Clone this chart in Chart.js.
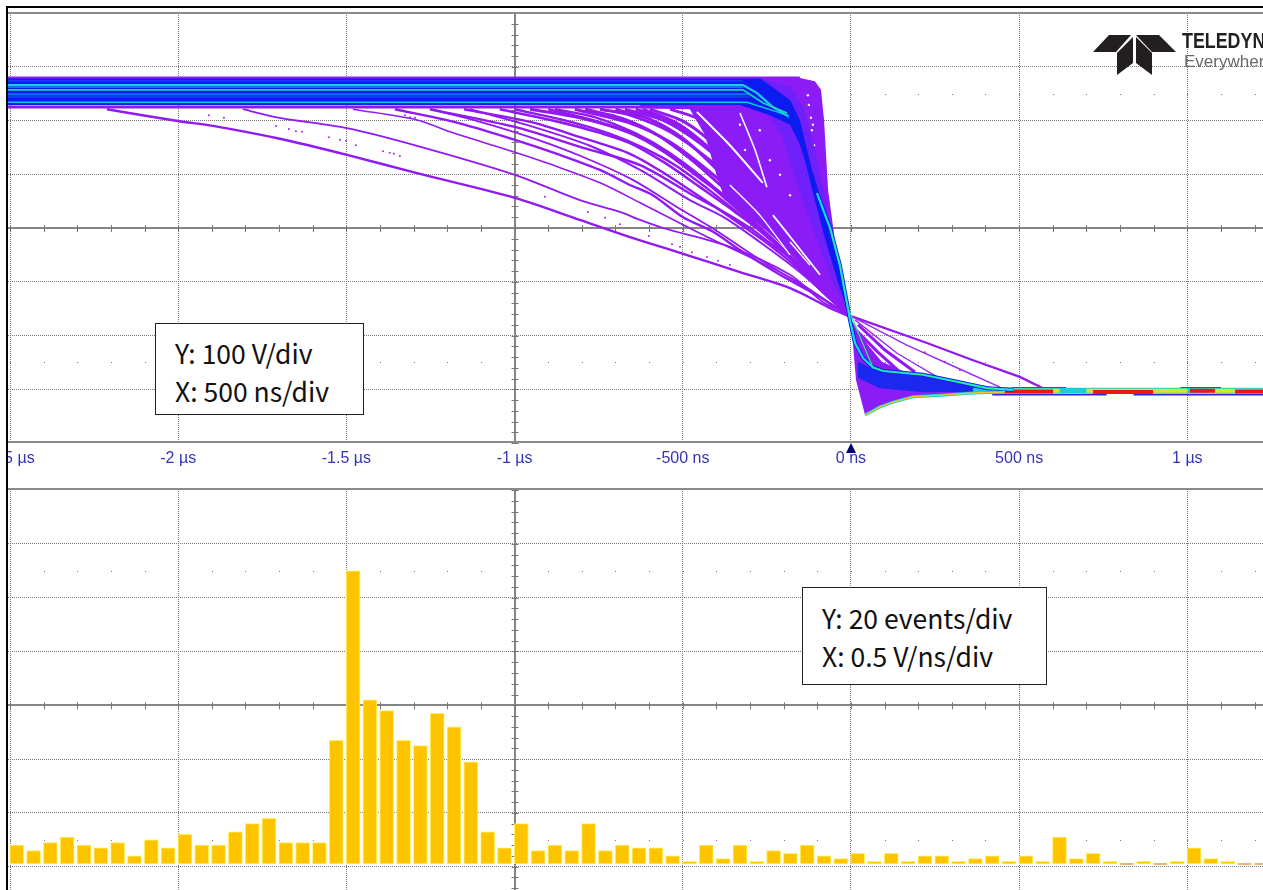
<!DOCTYPE html>
<html>
<head>
<meta charset="utf-8">
<script src="https://cdn.jsdelivr.net/npm/chart.js@4"></script>
<style>
  html, body { margin: 0; padding: 0; background: #fff; width: 1263px; height: 890px; overflow: hidden; }
  .abs { position: absolute; }
  #wrapTop { left: 8px; top: 13px; width: 1255px; height: 476px; overflow: hidden; }
  #wrapTop canvas { position: absolute; left: -58px; top: 0; }
  #wrapBottom { left: 8px; top: 489px; width: 1255px; height: 401px; overflow: hidden; }
  .rule { background: #8a8a8a; height: 2px; left: 8px; width: 1255px; }
  .note { background: #fff; border: 1.5px solid #222; box-sizing: border-box; color: #111;
          font: 26.5px/38px "Noto Sans CJK JP", "Noto Sans", sans-serif; white-space: nowrap; }
  #logoName { left: 1182px; top: 29px; font: bold 21.5px "Liberation Sans", sans-serif; color: #231f20;
              transform: scaleX(.83); transform-origin: left top; }
  #logoTag { left: 1184px; top: 52px; font: 17px "Liberation Sans", sans-serif; color: #6a6a6a; }
</style>
</head>
<body>
<div class="abs" style="left:6px;top:6px;width:1257px;height:2px;background:#000"></div>
<div class="abs" style="left:6px;top:6px;width:2px;height:884px;background:#000"></div>
<div class="abs" id="wrapTop"><canvas id="scope" width="1313" height="476"></canvas></div>
<div class="abs" id="wrapBottom"><canvas id="hist" width="1255" height="401"></canvas></div>
<div class="abs rule" style="top:12px"></div>
<div class="abs rule" style="top:441px"></div>
<div class="abs rule" style="top:488px"></div>
<svg class="abs" style="left:1090px;top:30px" width="90" height="50" viewBox="1090 30 90 50">
  <g fill="#231f20">
    <polygon points="1109,35 1131,35 1116,52 1093,52"/>
    <polygon points="1136,35 1159,35 1176,52 1152,52"/>
    <polygon points="1133,37 1133,63 1117,75 1117,53"/>
    <polygon points="1136,37 1152,53 1152,75 1136,63"/>
  </g>
</svg>
<div class="abs" id="logoName">TELEDYNE</div>
<div class="abs" id="logoTag">Everywhere</div>
<div class="abs note" style="left:155px;top:323px;width:209px;height:92px;padding:10px 0 0 19px">Y: 100 V/div<br>X: 500 ns/div</div>
<div class="abs note" style="left:802px;top:587px;width:245px;height:98px;padding:11px 0 0 19px">Y: 20 events/div<br>X: 0.5 V/ns/div</div>
<svg class="abs" style="left:845px;top:443px" width="12" height="11"><polygon points="6,0 11,10 1,10" fill="#000080"/></svg>

<script>
"use strict";

// ---- top panel axes: time in ns, voltage in V ----
const timeTicks = [-2500, -2000, -1500, -1000, -500, 0, 500, 1000];
const timeLabels = ["-2.5 µs", "-2 µs", "-1.5 µs", "-1 µs", "-500 ns", "0 ns", "500 ns", "1 µs"];
const voltTicks = [-300, -200, -100, 0, 100, 200, 300];

// ---- falling edges, [ns, V] ----
const edgeOuter = [[-2212,221],[-2001,199],[-1897,190],[-1698,166],[-1498,136],[-1290,102],[-999,56],[-806,15],[-657,-17],[-499,-48],[-330,-82],[-181,-112],[-62,-149],[-6,-164]];
const edge2 = [[-1808,221],[-1698,205],[-1498,186],[-1290,153],[-999,99],[-806,52],[-687,30],[-627,15],[-559,0],[-360,-35],[-181,-87],[-83,-138],[-12,-158]];
const edge3 = [[-1481,221],[-1290,201],[-1183,177],[-999,141],[-886,117],[-746,84],[-627,47],[-499,6],[-410,-22],[-271,-63],[-152,-102],[-62,-140],[-6,-164]];
const edge3b = [[-1356,221],[-1177,197],[-999,164],[-865,136],[-746,108],[-657,80],[-589,61],[-499,20],[-410,-7],[-330,-41],[-211,-87],[-101,-125],[-6,-164]];
const edge3c = [[-1250,221],[-1100,197],[-950,168],[-800,133],[-650,90],[-520,40],[-400,-5],[-280,-55],[-150,-105],[-50,-145],[-6,-164]];
const edge4 = [[-1252,221],[-999,188],[-806,151],[-627,117],[-470,61],[-398,37],[-300,0],[-241,-28],[-161,-65],[-71,-119],[-6,-164]];
const edge4b = [[-1133,221],[-954,190],[-776,153],[-627,108],[-479,52],[-375,19],[-271,-26],[-152,-82],[-48,-140],[-6,-164]];
const edge4c = [[-1150,221],[-950,197],[-800,168],[-657,138],[-553,101],[-449,58],[-345,14],[-241,-32],[-152,-78],[-62,-132],[-6,-164]];
const edge5 = [[-1044,221],[-865,197],[-746,177],[-657,158],[-553,121],[-449,76],[-345,30],[-241,-19],[-152,-69],[-62,-126],[-6,-164]];
const edge5b = [[-1000,221],[-830,197],[-720,176],[-620,150],[-520,116],[-420,70],[-320,20],[-220,-33],[-130,-88],[-50,-138],[-6,-164]];
const edge5c = [[-900,221],[-780,203],[-680,183],[-590,158],[-500,122],[-400,72],[-300,18],[-200,-40],[-110,-98],[-40,-142],[-6,-164]];
const edge6 = [[-954,221],[-806,205],[-657,177],[-553,141],[-449,93],[-345,45],[-241,-7],[-137,-71],[-48,-134],[-6,-164]];
const edge6b = [[-880,221],[-760,206],[-640,176],[-540,140],[-440,90],[-340,36],[-240,-20],[-140,-78],[-60,-128],[-6,-164]];
const edge6c = [[-790,221],[-680,204],[-580,175],[-480,130],[-380,75],[-280,17],[-180,-44],[-90,-108],[-6,-164]];
const edge7 = [[-821,221],[-657,195],[-538,160],[-434,112],[-330,56],[-226,-4],[-122,-74],[-6,-164]];
const edge7b = [[-700,221],[-600,203],[-500,167],[-400,110],[-300,45],[-200,-20],[-100,-95],[-6,-164]];
const edge8 = [[-746,221],[-657,210],[-538,179],[-419,126],[-315,67],[-211,-4],[-107,-82],[-6,-164]];
const edge8b = [[-640,221],[-550,203],[-460,168],[-370,115],[-280,50],[-190,-18],[-95,-98],[-6,-164]];
const edge9 = [[-672,221],[-553,199],[-449,158],[-345,102],[-241,30],[-152,-41],[-62,-119],[-6,-164]];
const edge9b = [[-620,221],[-520,196],[-420,148],[-320,84],[-220,10],[-130,-62],[-50,-130],[-6,-164]];
const edge10 = [[-598,221],[-494,197],[-389,145],[-285,71],[-181,-22],[-77,-115],[-6,-164]];
const edge11 = [[-538,221],[-449,201],[-345,141],[-256,71],[-166,-19],[-77,-106],[-6,-164]];
const strayPoints = [[-1909,210],[-1864,205],[-1709,190],[-1671,184],[-1650,180],[-1632,179],[-1552,169],[-1519,164],[-1501,162],[-1472,154],[-1391,143],[-1371,140],[-1359,138],[-1341,134],[-1326,210],[-1311,206],[-1296,205],[-910,58],[-782,30],[-731,19],[-687,7],[-601,-15],[-532,-30],[-508,-35],[-473,-45],[-428,-54],[-395,-61],[-360,-69],[220,-231],[279,-249],[324,-264]];

// ---- dense body of the edge family (upper and lower outline) ----
const bodyUpper = [[-627,279],[-152,279],[-107,273],[-89,257],[-80,201],[-68,71],[-48,-22],[-24,-106],[-3,-164]];
const bodyLower = [[-627,223],[-479,221],[-434,173],[-404,108],[-375,52],[-241,-7],[-71,-119],[-3,-164]];
const violetUpper = [[-271,279],[-181,262],[-140,225],[-108,150],[-75,52],[-39,-60],[-3,-164]];
const violetLower = [[-271,229],[-241,205],[-205,170],[-170,100],[-115,0],[-55,-100],[-3,-164]];
const blueUpper = [[-2506,279],[-271,279],[-181,238],[-152,201],[-116,108],[-77,24],[-39,-69],[-9,-149]];
const blueLower = [[-2506,229],[-330,229],[-241,210],[-181,192],[-143,145],[-119,80],[-80,-13],[-36,-106],[-9,-153]];

// ---- thin unhit streaks and specks left inside the dense body ----
const gap1 = [[-458,216],[-360,154],[-262,84]];
const gap2 = [[-330,214],[-285,145],[-250,76]];
const gap3 = [[-232,24],[-161,-32],[-92,-87]];
const gap4 = [[-360,80],[-271,24],[-181,-50]];
const gap5 = [[-181,-26],[-122,-69]];
const gapSpecks = [[-128,247],[-125,229],[-119,205],[-116,182],[-113,192],[-110,154],[-107,126],[-104,104],[-315,145],[-241,126],[-211,99],[-181,61],[-271,182],[-330,192]];

// ---- plateau stripes ----
const plateauTop = [[-2506,280],[-152,280]];
const plateauBottom = [[-2506,225],[-330,225]];
const stripeHigh = [[-2506,262],[-321,262]];
const stripeMid = [[-2506,249],[-300,249]];
const stripeLow = [[-2506,244],[-300,244]];
const stripeDim = [[-2506,274],[-321,274]];
const cyan1 = [[-2506,266],[-321,266],[-279,251],[-232,225],[-181,206]];
const cyan2 = [[-2506,257],[-321,257],[-262,233],[-190,214]];
const cyan3 = [[-2506,234],[-309,234],[-220,216],[-175,206]];

// ---- most common edge and what follows the trigger ----
const mainEdge = [[-181,210],[-152,169],[-101,65],[-62,0],[-33,-69],[-9,-149],[-3,-171],[12,-214],[36,-242],[65,-259],[95,-266],[214,-273],[315,-286],[404,-298],[482,-301]];
const mainEdgeCyan = [[-101,65],[-62,0],[-33,-69],[-9,-149],[-3,-171],[12,-214],[36,-242],[65,-259],[95,-266],[214,-273],[315,-286],[404,-298],[482,-301]];
const mainEdgeGreen = [[-62,0],[-33,-69],[-9,-149],[65,-259],[95,-266],[214,-273],[315,-286],[404,-298],[482,-301]];
const undershoot = [[42,-348],[86,-333],[125,-324],[184,-314],[265,-311],[363,-307],[458,-305]];
const lobe1 = [[0,-164],[226,-214],[363,-246],[502,-277],[571,-298]];
const lobe2 = [[6,-166],[166,-218],[315,-260],[443,-296]];
const lobe3 = [[12,-171],[137,-233],[256,-277]];
const lobe4 = [[21,-180],[101,-227],[190,-268]];
const lobe5 = [[15,-190],[80,-231],[146,-268]];
const wedgeUpper = [[0,-171],[51,-218],[92,-249],[161,-268],[324,-286],[473,-301]];
const wedgeLower = [[0,-171],[15,-283],[42,-348],[86,-333],[125,-324],[184,-314],[265,-311],[363,-307],[473,-305]];
const settleBlueUpper = [[21,-249],[65,-262],[214,-277],[315,-288],[443,-300]];
const settleBlueLower = [[21,-279],[86,-298],[205,-305],[324,-305],[443,-303]];
const settleCyan = [[363,-303],[1225,-303]];
const settleEdgeHigh = [[480,-297],[640,-297],[660,null],[980,-297],[1100,-297]];
const settleEdgeLow = [[420,-310],[760,-310],[800,null],[840,-310],[1225,-310]];
const settleYellow = [[420,-303],[620,-303],[700,null],[700,-303],[1000,-303],[1040,null],[1060,-303],[1225,-303]];
const settleRed = [[452,-304],[601,-304],[660,null],[720,-305],[898,-305],[950,null],[1008,-303],[1082,-303],[1110,null],[1142,-304],[1225,-304]];

// ---- slew-rate histogram ----
const slewBins = [0.02,0.07,0.12,0.17,0.22,0.27,0.32,0.37,0.42,0.47,0.52,0.57,0.62,0.67,0.72,0.77,0.82,0.87,0.92,0.97,1.02,1.07,1.12,1.17,1.22,1.27,1.32,1.37,1.42,1.47,1.52,1.57,1.62,1.67,1.72,1.77,1.82,1.87,1.92,1.97,2.02,2.07,2.12,2.17,2.22,2.27,2.32,2.37,2.42,2.47,2.52,2.57,2.62,2.67,2.72,2.77,2.82,2.87,2.92,2.97,3.02,3.07,3.12,3.17,3.22,3.27,3.32,3.37,3.42,3.47,3.52,3.57,3.62,3.67,3.72];
const slewCounts = [7,5,8,10,7,6,8,3,9,6,11,7,7,12,15,17,8,8,8,46,109,61,57,46,44,56,51,38,12,6,15,5,7,5,15,5,7,6,6,3,1,7,2,7,1,5,4,7,3,2,4,1,4,1,3,3,1,2,3,1,3,1,10,2,4,1,0,1,0,1,6,2,1,0,0];
const slewTicks = [0, 0.5, 1, 1.5, 2, 2.5, 3, 3.5];
const countTicks = [-1, 19, 39, 59, 79, 99, 119];

const pts = (a) => a.map(([x, y]) => ({ x, y }));
const GRID = "#7a7a7a";
const AXIS = "#858585";

// center cross with minor ticks and the two rows of dots, like the scope's graticule
const graticule = {
  id: "graticule",
  beforeDatasetsDraw(chart, args, o) {
    const { ctx, chartArea: a, scales: { x, y } } = chart;
    const cx = x.getPixelForValue(o.cx), cy = y.getPixelForValue(o.cy);
    ctx.save();
    ctx.strokeStyle = "#777";
    ctx.fillStyle = "#777";
    ctx.lineWidth = 1;
    for (let v = o.xFrom; x.getPixelForValue(v) < a.right; v += o.xStep) {
      const p = Math.round(x.getPixelForValue(v));
      ctx.beginPath(); ctx.moveTo(p + .5, cy - 3); ctx.lineTo(p + .5, cy + 4); ctx.stroke();
      [o.cy + o.row, o.cy - o.row].forEach((r) => ctx.fillRect(p, Math.round(y.getPixelForValue(r)), 1, 1));
    }
    for (let v = o.yFrom; v < y.max; v += o.yStep) {
      const p = Math.round(y.getPixelForValue(v));
      ctx.beginPath(); ctx.moveTo(cx - 3, p + .5); ctx.lineTo(cx + 4, p + .5); ctx.stroke();
    }
    ctx.restore();
  },
};

function gridScale(ticks, center, extra) {
  return Object.assign({
    type: "linear",
    offset: false,
    afterBuildTicks: (s) => { s.ticks = ticks.map((value) => ({ value })); },
    grid: {
      offset: false,
      drawTicks: false,
      color: (c) => (c.tick && c.tick.value === center ? AXIS : GRID),
      lineWidth: (c) => (c.tick && c.tick.value === center ? 2 : 1),
    },
    border: { display: false, dash: (c) => (c.tick && c.tick.value === center ? [] : [1, 1]) },
    ticks: { display: false, autoSkip: false },
  }, extra);
}

// ---- layers are listed back to front ----
const line = (data, color, width, extra) => Object.assign({
  data: pts(data), borderColor: color, borderWidth: width, pointRadius: 0, fill: false,
}, extra);
const edge = (data, width) => line(data, "#9218f4", width, { tension: .3 });
const band = (upper, lower, color) => [
  line(upper, "transparent", 0, { fill: "+1", backgroundColor: color }),
  line(lower, "transparent", 0),
];

const layers = [
  edge(edgeOuter, 2.4), edge(edge2, 1.8), edge(edge3, 1.6), edge(edge3b, 2.4), edge(edge3c, 1.8),
  edge(edge4, 2.4), edge(edge4b, 2), edge(edge4c, 2.4), edge(edge5, 2.6), edge(edge5b, 2.4), edge(edge5c, 2.6),
  edge(edge6, 3), edge(edge6b, 2.4), edge(edge6c, 3), edge(edge7, 3), edge(edge7b, 3), edge(edge8, 3),
  edge(edge8b, 3), edge(edge9, 3), edge(edge9b, 3), edge(edge10, 3), edge(edge11, 3),
  line(lobe1, "#9218f4", 2.2), line(lobe2, "#9a28f6", 1.4), line(lobe3, "#9a28f6", 1.4),
  line(lobe4, "#9218f4", 3), line(lobe5, "#9218f4", 3),
  line(strayPoints, "#9a28f6", 0, { showLine: false, pointRadius: 1, pointBackgroundColor: "#9a28f6", pointBorderWidth: 0 }),
  ...band(bodyUpper, bodyLower, "#8c1cf5"),
  line(gap1, "#fff", 2, { tension: .2 }), line(gap2, "#fff", 1.6, { tension: .2 }), line(gap3, "#fff", 1.8, { tension: .2 }),
  line(gap4, "#fff", 1.4, { tension: .2 }), line(gap5, "#fff", 1.4),
  line(gapSpecks, "#fff", 0, { showLine: false, pointRadius: 1.2, pointBackgroundColor: "#fff", pointBorderWidth: 0 }),
  ...band(violetUpper, violetLower, "#6f20fb"),
  ...band(wedgeUpper, wedgeLower, "#8c1cf5"),
  ...band(settleBlueUpper, settleBlueLower, "#1a28f0"),
  ...band(blueUpper, blueLower, "#0c1cf0"),
  line(plateauTop, "#8c1cf5", 2),
  line(plateauBottom, "#8c1cf5", 3),
  line(stripeDim, "#0c40f0", 1.5),
  line(stripeHigh, "#0c78f2", 1.5),
  line(stripeMid, "#0c70f2", 2),
  line(stripeLow, "#0a40ea", 2),
  line(cyan1, "#16d0e4", 2.2),
  line(cyan2, "#20d0b8", 1.8),
  line(cyan3, "#14c0e4", 1.5),
  line(settleEdgeHigh, "#3020e8", 1.5),
  line(settleEdgeLow, "#3020e8", 1.5),
  line(settleCyan, "#16d0d8", 6),
  line(settleYellow, "#d8e820", 4),
  line(settleRed, "#f01414", 4),
  line(mainEdge, "#0c1cf0", 4),
  line(mainEdgeCyan, "#14d8e4", 2.2),
  line(mainEdgeGreen, "#30e890", 1.2),
  line(undershoot, "#14c8e4", 3),
  line(undershoot, "#e8c828", 1.4),
];
layers.forEach((d, i) => { d.order = layers.length - i; });

new Chart(document.getElementById("scope"), {
  type: "line",
  data: { datasets: layers },
  plugins: [graticule],
  options: {
    animation: false,
    responsive: false,
    layout: { padding: { left: 58 }, autoPadding: false },
    plugins: {
      legend: { display: false },
      tooltip: { enabled: false },
      filler: { drawTime: "beforeDatasetDraw" },
      graticule: { cx: -1000, cy: 0, xFrom: -2500, xStep: 100, yFrom: -400, yStep: 20, row: 250 },
    },
    scales: {
      x: gridScale(timeTicks, -1000, {
        min: -2506, max: 1225,
        afterFit: (s) => { s.height = 46; },
        ticks: {
          display: true, autoSkip: false, maxRotation: 0, padding: 6, color: "#3434b8",
          font: { family: "Liberation Sans", size: 16 },
          callback: (v) => timeLabels[timeTicks.indexOf(v)],
        },
      }),
      y: gridScale(voltTicks, 0, { min: -400, max: 400, afterFit: (s) => { s.width = 0; } }),
    },
  },
});

// ---- histogram panel ----
const zeroRuns = [];
slewBins.forEach((b, i) => {
  if (slewCounts[i] === 0) zeroRuns.push([b - .02, 0], [b + .02, 0], [b + .025, null]);
});

new Chart(document.getElementById("hist"), {
  data: {
    datasets: [
      Object.assign(line(zeroRuns, "#e0a040", 1.5), { type: "line", order: 0 }),
      {
        type: "bar",
        order: 1,
        data: slewBins.map((x, i) => ({ x, y: slewCounts[i] })),
        barThickness: 14,
        backgroundColor: "#ffc400",
        borderColor: "#fff060",
        borderWidth: 1,
        borderSkipped: false,
      },
    ],
  },
  plugins: [graticule],
  options: {
    animation: false,
    responsive: false,
    layout: { autoPadding: false },
    plugins: {
      legend: { display: false },
      tooltip: { enabled: false },
      graticule: { cx: 1.5, cy: 59, xFrom: 0, xStep: 0.1, yFrom: -61, yStep: 4, row: 50 },
    },
    scales: {
      x: gridScale(slewTicks, 1.5, { min: -0.006, max: 3.725 }),
      y: gridScale(countTicks, 59, { min: -9.67, max: 139.4, afterFit: (s) => { s.width = 0; } }),
    },
  },
});
</script>
</body>
</html>
